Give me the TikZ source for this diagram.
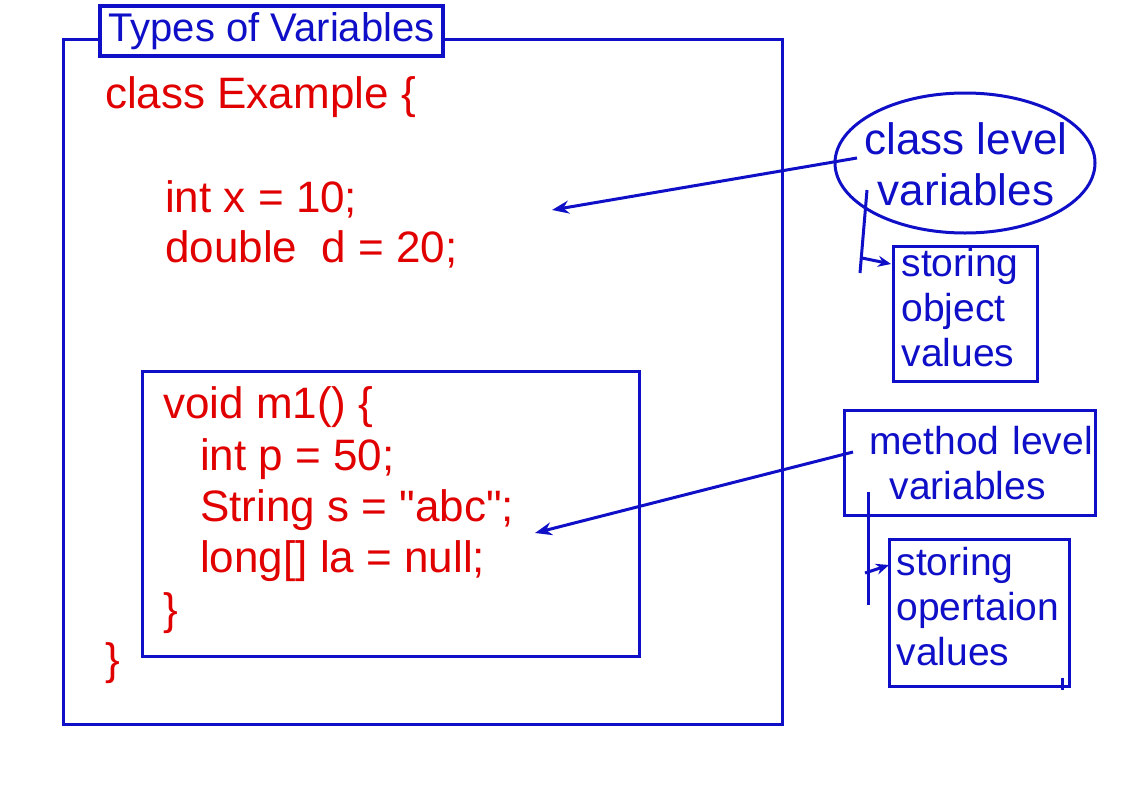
\documentclass[tikz,border=0pt]{standalone}
\usepackage{fontspec}
\setmainfont{Liberation Sans}
\usetikzlibrary{arrows.meta,shapes.geometric}
\definecolor{bl}{RGB}{15,15,200}
\definecolor{rd}{RGB}{225,0,0}
\font\qfont="Liberation Sans" at 44pt
\newcommand{\sq}{{\qfont\char"22}}
\begin{document}
\begin{tikzpicture}[x=1pt,y=-1pt,
 code/.style={anchor=base west,inner sep=0pt,text=rd,font=\fontsize{44}{50.6}\selectfont},
 lbl/.style={draw=bl,line width=3pt,text=bl,font=\fontsize{39}{45}\selectfont,align=left,anchor=north west,inner ysep=0pt},
 frame/.style={draw=bl,line width=3.4pt,inner sep=0pt},
 conn/.style={draw=bl,line width=3pt},
 arr/.style={conn,-{Stealth[length=17pt,width=13pt]}},
 sarr/.style={conn,-{Stealth[length=13pt,width=11pt]}}]
\fill[white] (0,0) rectangle (1122,798);
\useasboundingbox (0,0) rectangle (1122,798);

% outer frame and title
\node[frame,minimum width=719pt,minimum height=685pt,anchor=north west] (outer) at (62,38) {};
\node[frame,fill=white,text=bl,font=\fontsize{40}{46}\selectfont,minimum width=343pt,minimum height=50pt] (title) at (271.5,31) {Types of Variables};

% class code
\node[code] (l1) at (105,108) {class Example \{};
\node[code] (l2) at (165,212) {int x = 10;};
\node[code] (l3) at (165,262) {double~~d = 20;};

% method box
\node[frame,minimum width=497pt,minimum height=285pt,anchor=north west] (mbox) at (141,370) {};
\node[code] (m1) at (163,418) {void m1() \{};
\node[code] (m2) at (200,470) {int p = 50;};
\node[code] (m3) at (200,521) {String s = \sq abc\sq;};
\node[code] (m4) at (200,572) {long[] la = null;};
\node[code] (m5) at (163,624) {\}};
\node[code] (l4) at (105,674) {\}};

% right side labels
\node[text=bl,font=\fontsize{44}{50.6}\selectfont,align=center,inner sep=0pt] (cls) at (966,164) {class level\\variables};
\draw[conn] (965,163) ellipse [x radius=130pt, y radius=70pt];
\node[lbl,minimum width=144pt,minimum height=135pt,inner xsep=8pt,text width=128pt] (sto1) at (892,245) {storing\\object\\values\strut};
\node[lbl,minimum width=251pt,minimum height=105pt,inner xsep=2pt,text width=247pt] (mth) at (843,409) {\hspace*{23pt}method level\\\hspace*{43pt}variables};
\node[lbl,minimum width=180pt,minimum height=147pt,inner xsep=7pt,text width=166pt] (sto2) at (888,538) {storing\\opertaion\\values\strut};

% connectors
\coordinate (c1s) at (857,158);
\coordinate (c1e) at (552,210);
\draw[arr] (c1s) -- (c1e);
\coordinate (b1t) at (867,190);
\coordinate (b1b) at (860,273);
\draw[conn] (b1t) -- (b1b);
\coordinate (b1a) at (862,258);
\coordinate (b1e) at (891,264);
\draw[sarr] (b1a) -- (b1e);

\coordinate (c2s) at (853,452);
\coordinate (c2e) at (535,533);
\draw[arr] (c2s) -- (c2e);
\coordinate (b2t) at (868,492);
\coordinate (b2b) at (868,605);
\draw[conn] (b2t) -- (b2b);
\coordinate (b2a) at (865,573);
\coordinate (b2e) at (889,565);
\draw[sarr] (b2a) -- (b2e);

\coordinate (t1) at (1062,678);
\coordinate (t2) at (1062,690);
\draw[conn] (t1) -- (t2);
\end{tikzpicture}
\end{document}
